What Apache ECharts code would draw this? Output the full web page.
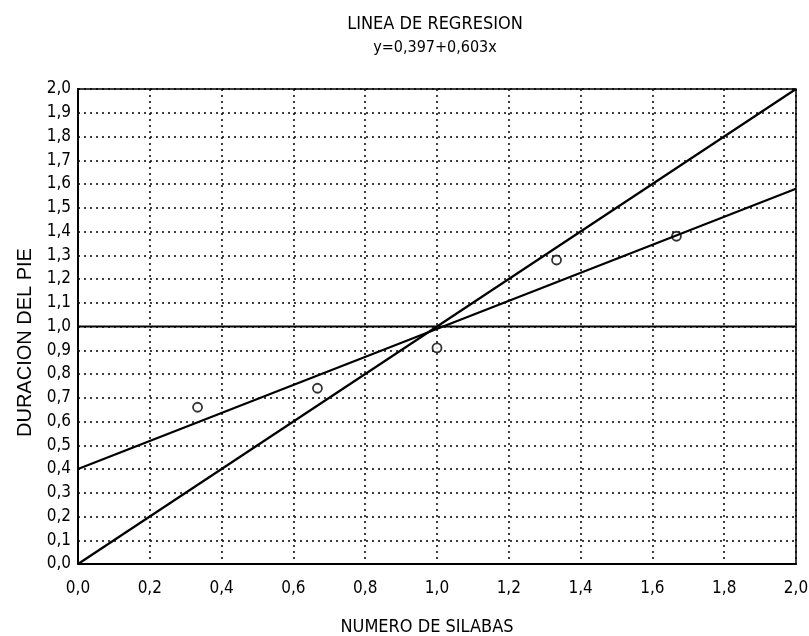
<!DOCTYPE html>
<html>
<head>
<meta charset="utf-8">
<script src="https://cdn.jsdelivr.net/npm/echarts@6/dist/echarts.min.js"></script>
<style>
  html, body { margin: 0; padding: 0; background: #fff; }
  #chart { width: 809px; height: 636px; }
</style>
</head>
<body>
<div id="chart"></div>
<script>
// measured points (numero de silabas, duracion del pie)
const silabas = [0.333, 0.667, 1.0, 1.333, 1.667]
const duracion = [0.66, 0.74, 0.91, 1.28, 1.38]
// line end points
const regresion = [[0, 0.40], [2, 1.58]]
const diagonal = [[0, 0], [2, 2]]
const referencia = [[0, 1.0], [2, 1.0]]

const FONT = "'Liberation Sans Narrow', 'Arial Narrow', 'DejaVu Sans Condensed', sans-serif"
const comma = v => v.toFixed(1).replace('.', ',')

const chart = echarts.init(document.getElementById('chart'))
const lineStyle = { color: '#000', width: 2.2 }

chart.setOption({
  animation: false,
  backgroundColor: '#fff',
  title: [{
    text: 'LINEA DE REGRESION',
    left: 430,
    top: 10,
    textAlign: 'center',
    textStyle: { fontFamily: FONT, fontSize: 18, fontWeight: 'normal', color: '#000' }
  }, {
    text: 'y=0,397+0,603x',
    left: 430,
    top: 35,
    textAlign: 'center',
    textStyle: { fontFamily: FONT, fontSize: 16, fontWeight: 'normal', color: '#000' }
  }],
  grid: {
    left: 78, right: 13, top: 89, bottom: 72,
    outerBoundsMode: 'none',
    containLabel: false,
    show: true, borderColor: '#000', borderWidth: 1.5
  },
  xAxis: {
    type: 'value',
    min: 0, max: 2, interval: 0.2,
    name: 'NUMERO DE SILABAS',
    nameLocation: 'middle',
    nameGap: 54,
    nameTextStyle: { fontFamily: FONT, fontSize: 18, color: '#000', padding: [0, 20, 0, 0] },
    axisLine: { lineStyle: { color: '#000', width: 2 } },
    axisTick: { show: false },
    axisLabel: { formatter: comma, fontFamily: FONT, fontSize: 17, color: '#000', margin: 16 },
    splitLine: { lineStyle: { color: '#000', type: [2, 4], width: 1.5 } }
  },
  yAxis: {
    type: 'value',
    min: 0, max: 2, interval: 0.1,
    name: 'DURACION DEL PIE',
    nameLocation: 'middle',
    nameGap: 40,
    nameTextStyle: { fontFamily: "Arial, 'Liberation Sans', sans-serif", fontSize: 20, color: '#000', padding: [0, 32, 0, 0] },
    axisLine: { lineStyle: { color: '#000', width: 2 } },
    axisTick: { show: false },
    axisLabel: { formatter: comma, fontFamily: FONT, fontSize: 17, color: '#000', margin: 7 },
    splitLine: { lineStyle: { color: '#000', type: [2, 4], width: 1.5 } }
  },
  series: [
    { type: 'line', data: diagonal, symbol: 'none', lineStyle: lineStyle },
    { type: 'line', data: regresion, symbol: 'none', lineStyle: lineStyle },
    { type: 'line', data: referencia, symbol: 'none', lineStyle: lineStyle },
    {
      type: 'scatter',
      data: silabas.map((x, i) => [x, duracion[i]]),
      symbol: 'circle',
      symbolSize: 9,
      itemStyle: { color: '#fff', borderColor: '#000', borderWidth: 1.8 }
    }
  ]
})
</script>
</body>
</html>
